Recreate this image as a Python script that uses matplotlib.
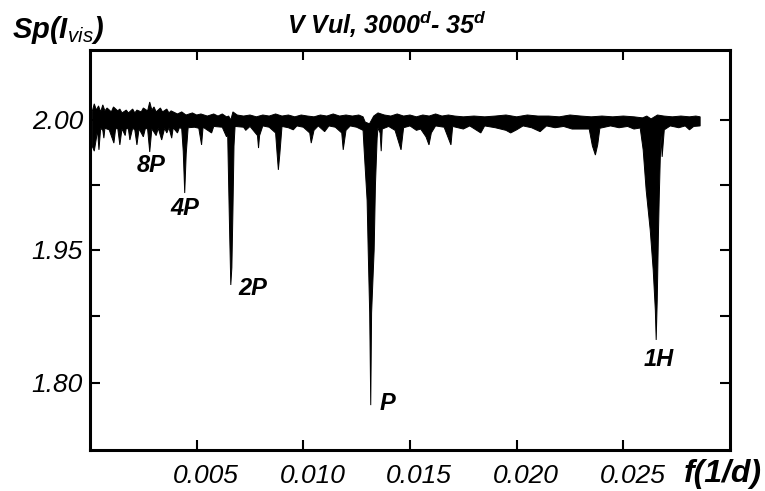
import numpy as np
import matplotlib
matplotlib.use("Agg")
import matplotlib.pyplot as plt
from matplotlib.transforms import ScaledTranslation

plt.rcParams['font.family'] = ['Liberation Sans', 'DejaVu Sans']
plt.rcParams['mathtext.fontset'] = 'custom'
plt.rcParams['mathtext.it'] = 'Liberation Sans:italic:bold'
plt.rcParams['mathtext.rm'] = 'Liberation Sans:italic'
plt.rcParams['mathtext.bf'] = 'Liberation Sans:bold'

# ---------------- data ----------------
upper_freq = [0.0001, 0.0002, 0.0003, 0.0004, 0.0005, 0.0006, 0.0007, 0.0008, 0.0010, 0.0011,
              0.0013, 0.0014, 0.0015, 0.0017, 0.0018, 0.0020, 0.0021, 0.0022, 0.0024, 0.0025,
              0.0027, 0.0028, 0.0029, 0.0030, 0.0031, 0.0033, 0.0034, 0.0036, 0.0037, 0.0038,
              0.0041, 0.0043, 0.0045, 0.0048, 0.0050, 0.0052, 0.0055, 0.0058, 0.0060, 0.0062,
              0.0064, 0.0065, 0.0066, 0.0067, 0.0069, 0.0072, 0.0075, 0.0078, 0.0081, 0.0084,
              0.0087, 0.0090, 0.0093, 0.0096, 0.0099, 0.0102, 0.0105, 0.0108, 0.0111, 0.0114,
              0.0117, 0.0120, 0.0123, 0.0126, 0.0128, 0.0129, 0.0131, 0.0133, 0.0135, 0.0138,
              0.0141, 0.0144, 0.0147, 0.0150, 0.0153, 0.0156, 0.0159, 0.0162, 0.0165, 0.0168,
              0.0171, 0.0175, 0.0180, 0.0185, 0.0190, 0.0195, 0.0200, 0.0205, 0.0210, 0.0215,
              0.0220, 0.0225, 0.0230, 0.0235, 0.0240, 0.0245, 0.0250, 0.0255, 0.0259, 0.0261,
              0.0263, 0.0266, 0.0269, 0.0273, 0.0277, 0.0281, 0.0284, 0.0286]
upper_sp = [2.0031, 2.0062, 2.0038, 2.0054, 2.0031, 2.0058, 2.0035, 2.0046, 2.0031, 2.0050,
            2.0035, 2.0042, 2.0027, 2.0038, 2.0027, 2.0042, 2.0027, 2.0038, 2.0031, 2.0046,
            2.0035, 2.0069, 2.0038, 2.0050, 2.0031, 2.0046, 2.0031, 2.0042, 2.0027, 2.0035,
            2.0023, 2.0031, 2.0019, 2.0027, 2.0019, 2.0023, 2.0015, 2.0023, 2.0015, 2.0023,
            2.0012, 2.0015, 2.0000, 2.0031, 2.0019, 2.0015, 2.0019, 2.0012, 2.0019, 2.0015,
            2.0023, 2.0015, 2.0019, 2.0012, 2.0019, 2.0015, 2.0012, 2.0019, 2.0015, 2.0023,
            2.0015, 2.0019, 2.0015, 2.0019, 2.0012, 1.9992, 1.9985, 2.0015, 2.0027, 2.0019,
            2.0015, 2.0023, 2.0015, 2.0019, 2.0012, 2.0019, 2.0015, 2.0023, 2.0015, 2.0019,
            2.0015, 2.0012, 2.0015, 2.0012, 2.0015, 2.0019, 2.0012, 2.0019, 2.0015, 2.0015,
            2.0012, 2.0019, 2.0015, 2.0012, 2.0015, 2.0012, 2.0015, 2.0012, 2.0008, 2.0015,
            2.0004, 2.0019, 2.0015, 2.0012, 2.0015, 2.0012, 2.0015, 2.0012]

lower_freq = [0.0001, 0.0002, 0.0003, 0.00035, 0.00042, 0.0005, 0.0006, 0.00065, 0.0007, 0.0009,
              0.00112, 0.0012, 0.0013, 0.0014, 0.0015, 0.00165, 0.0017, 0.0018, 0.00187, 0.0020,
              0.0021, 0.0022, 0.0023, 0.0025, 0.0026, 0.0027, 0.0028, 0.0029, 0.0031, 0.0032,
              0.00336, 0.0035, 0.0036, 0.0037, 0.00383, 0.0039, 0.0041, 0.0042, 0.0043, 0.00437,
              0.00444, 0.00451, 0.0046, 0.0049, 0.0051, 0.00523, 0.0053, 0.0057, 0.0058, 0.0062,
              0.0064, 0.00645, 0.0065, 0.00655, 0.0066, 0.00665, 0.0067, 0.00675, 0.0068, 0.0072,
              0.0073, 0.0075, 0.00785, 0.0079, 0.00795, 0.0081, 0.0084, 0.0087, 0.00878, 0.00883,
              0.0089, 0.0090, 0.0093, 0.00953, 0.0097, 0.0100, 0.0103, 0.01037, 0.0105, 0.0107,
              0.0110, 0.0112, 0.0115, 0.0118, 0.01187, 0.0120, 0.0122, 0.0125, 0.0128, 0.01285,
              0.01299, 0.01304, 0.01311, 0.01316, 0.0132, 0.01332, 0.01338, 0.01346, 0.0135, 0.0136,
              0.01365, 0.0137, 0.0140, 0.0143, 0.01458, 0.0147, 0.0150, 0.0153, 0.0155, 0.01575,
              0.01589, 0.0160, 0.0162, 0.0166, 0.01692, 0.0170, 0.0175, 0.0178, 0.01832, 0.0185,
              0.0190, 0.0195, 0.01972, 0.0200, 0.0203, 0.0207, 0.0211, 0.0214, 0.0218, 0.0222,
              0.0226, 0.0234, 0.02355, 0.02369, 0.0238, 0.0239, 0.0244, 0.0248, 0.0252, 0.0255,
              0.02579, 0.02593, 0.02607, 0.02626, 0.0264, 0.0265, 0.02654, 0.02659, 0.02664, 0.02668,
              0.02673, 0.02677, 0.02682, 0.02692, 0.0272, 0.0276, 0.0279, 0.0281, 0.0283, 0.0286]
lower_sp = [1.9900, 1.9880, 1.9930, 1.9965, 1.9885, 1.9968, 1.9960, 1.9930, 1.9968, 1.9962,
            1.9911, 1.9965, 1.9968, 1.9904, 1.9966, 1.9940, 1.9968, 1.9965, 1.9923, 1.9968,
            1.9962, 1.9904, 1.9966, 1.9935, 1.9968, 1.9965, 1.9877, 1.9966, 1.9940, 1.9968,
            1.9923, 1.9968, 1.9950, 1.9970, 1.9930, 1.9970, 1.9950, 1.9972, 1.9965, 1.9880,
            1.9719, 1.9870, 1.9970, 1.9972, 1.9968, 1.9904, 1.9972, 1.9950, 1.9975, 1.9972,
            1.9935, 1.9960, 1.9750, 1.9550, 1.9105, 1.9300, 1.9650, 1.9900, 1.9975, 1.9972,
            1.9960, 1.9975, 1.9940, 1.9892, 1.9940, 1.9977, 1.9972, 1.9950, 1.9860, 1.9808,
            1.9870, 1.9975, 1.9970, 1.9962, 1.9977, 1.9972, 1.9950, 1.9911, 1.9960, 1.9977,
            1.9955, 1.9977, 1.9972, 1.9950, 1.9885, 1.9960, 1.9977, 1.9972, 1.9960, 1.9885,
            1.9690, 1.9500, 1.8790, 1.7750, 1.8790, 1.9500, 1.9750, 1.9930, 1.9970, 1.9950,
            1.9880, 1.9965, 1.9975, 1.9960, 1.9885, 1.9970, 1.9977, 1.9960, 1.9965, 1.9935,
            1.9904, 1.9950, 1.9977, 1.9972, 1.9904, 1.9975, 1.9965, 1.9977, 1.9950, 1.9977,
            1.9970, 1.9960, 1.9950, 1.9962, 1.9977, 1.9970, 1.9955, 1.9977, 1.9970, 1.9975,
            1.9965, 1.9965, 1.9900, 1.9865, 1.9905, 1.9968, 1.9977, 1.9970, 1.9975, 1.9965,
            1.9969, 1.9885, 1.9730, 1.9577, 1.9275, 1.8820, 1.8485, 1.8936, 1.9540, 1.9692,
            1.9846, 1.9940, 1.9858, 1.9962, 1.9977, 1.9970, 1.9977, 1.9962, 1.9975, 1.9977]

x_ticks = [0.005, 0.010, 0.015, 0.020, 0.025]
x_tick_labels = ['0.005', '0.010', '0.015', '0.020', '0.025']
y_ticks = [1.80, 1.875, 1.95, 1.975, 2.00]
y_tick_labels = ['1.80', '', '1.95', '', '2.00']

peak_labels = ['8P', '4P', '2P', 'P', '1H']
peak_label_freq = [0.00285, 0.00444, 0.00762, 0.01393, 0.02664]
peak_label_sp = [1.9823, 1.9661, 1.906, 1.7774, 1.826]

# ---------------- figure ----------------
fig = plt.figure(figsize=(7.65, 4.91), dpi=100)
ax = fig.add_axes([90 / 765, 41 / 491, 640 / 765, 400 / 491])

VK = [1.5, 1.80, 1.95, 2.00, 2.2]
PK = [-6.138, -2.046, 0.0, 2.0, 10.0]


def fwd(v):
    return np.interp(v, VK, PK)


def inv(p):
    return np.interp(p, PK, VK)


ax.set_yscale('function', functions=(fwd, inv))

fu = np.asarray(upper_freq)
su = np.asarray(upper_sp)
fl = np.asarray(lower_freq)
sl = np.asarray(lower_sp)
ax.fill(np.r_[fu, fl[::-1]], np.r_[su, sl[::-1]], facecolor='black',
        edgecolor='black', lw=0.7, zorder=2)

ax.set_xlim(0, 0.030)
ax.set_ylim(1.7244, 2.0269)

ax.set_xticks(x_ticks)
ax.set_xticklabels(x_tick_labels)
ax.set_yticks(y_ticks)
ax.set_yticklabels(y_tick_labels)
ax.minorticks_off()

ax.tick_params(which='both', direction='in', top=True, right=True,
               length=7, width=1.5, labelsize=19, color='black')
ax.tick_params(axis='x', pad=10)
ax.tick_params(axis='y', pad=5)
for lab in ax.get_xticklabels() + ax.get_yticklabels():
    lab.set_fontstyle('italic')
for lab in ax.get_xticklabels():
    lab.set_transform(lab.get_transform() + ScaledTranslation(9 / 100, 0, fig.dpi_scale_trans))

for sp in ax.spines.values():
    sp.set_linewidth(2.2)

for t, xf, ys in zip(peak_labels, peak_label_freq, peak_label_sp):
    ax.text(xf, ys, t, fontsize=17, fontweight='bold', fontstyle='italic',
            ha='center', va='center', zorder=3)

fig.text(12 / 765, 1 - 38 / 491, r"Sp(I$_{\mathrm{vis}}$)", fontsize=21,
         fontweight='bold', fontstyle='italic', ha='left', va='baseline')
fig.text(287 / 765, 1 - 34 / 491, r"V Vul, 3000$^{d}$- 35$^{d}$", fontsize=18,
         fontweight='bold', fontstyle='italic', ha='left', va='baseline')
fig.text(762 / 765, 1 - 482 / 491, "f(1/d)", fontsize=23,
         fontweight='bold', fontstyle='italic', ha='right', va='baseline')

fig.savefig('out.png', dpi=100, facecolor='white')
